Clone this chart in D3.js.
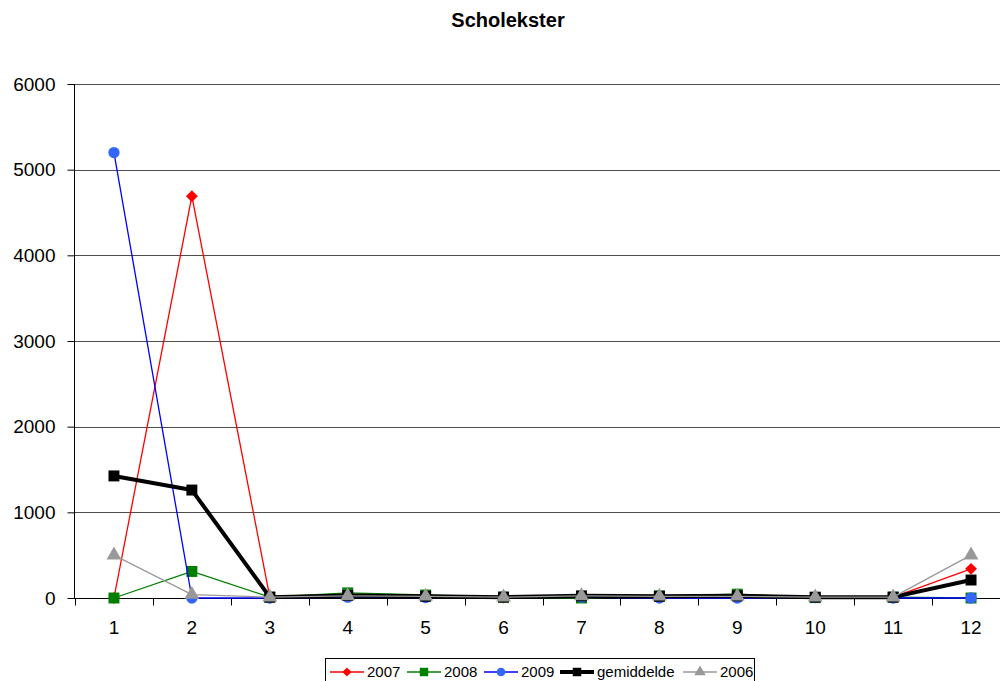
<!DOCTYPE html>
<html>
<head>
<meta charset="utf-8">
<script src="https://cdn.jsdelivr.net/npm/d3@7"></script>
<style>
  html, body { margin: 0; padding: 0; background: #fff; overflow: hidden; }
  svg { display: block; font-family: "Liberation Sans", Arial, sans-serif; }
</style>
</head>
<body>
<svg id="chart" width="1000" height="681"></svg>
<script>
// Monthly counts per year
const months = [1, 2, 3, 4, 5, 6, 7, 8, 9, 10, 11, 12];
const yTicks = [0, 1000, 2000, 3000, 4000, 5000, 6000];
const v2007 = [0, 4690, 10, 20, 15, 5, 30, 30, 10, 15, 10, 340];
const v2008 = [0, 310, 10, 60, 35, 10, 0, 25, 45, 5, 10, 0];
const v2009 = [5200, 0, 0, 10, 5, 15, 10, 0, 0, 5, 0, 0];
const vGemiddelde = [1425, 1260, 10, 30, 20, 10, 25, 20, 25, 10, 10, 210];
const v2006 = [500, 40, 10, 25, 20, 10, 25, 20, 20, 10, 10, 500];

const series = [
  { name: "2007", values: v2007, color: "#ff0000", width: 1.3, marker: "diamond", size: 70 },
  { name: "2008", values: v2008, color: "#008000", width: 1.3, marker: "square", size: 120 },
  { name: "2009", values: v2009, color: "#0000ff", markerColor: "#3366ff", width: 1.3, marker: "circle", size: 100 },
  { name: "gemiddelde", values: vGemiddelde, color: "#000000", width: 4, marker: "square", size: 120 },
  { name: "2006", values: v2006, color: "#999999", width: 1.3, marker: "triangle", size: 95 }
];

const svg = d3.select("#chart");
const margin = { left: 75, top: 84, right: -10, bottom: 83 };
const W = 1000, H = 681;

const x = d3.scaleBand().domain(months).range([margin.left, W - margin.right]);
const y = d3.scaleLinear().domain([0, 6000]).range([H - margin.bottom, margin.top]);

// Title
svg.append("text")
  .attr("x", 508).attr("y", 22)
  .attr("text-anchor", "middle")
  .attr("dominant-baseline", "middle")
  .attr("font-size", 20).attr("font-weight", "bold")
  .text("Scholekster");

// Horizontal gridlines
svg.append("g")
  .selectAll("line")
  .data(yTicks.filter(d => d > 0))
  .join("line")
  .attr("x1", margin.left).attr("x2", W - margin.right)
  .attr("y1", d => Math.round(y(d)) + 0.5).attr("y2", d => Math.round(y(d)) + 0.5)
  .attr("stroke", "#000").attr("stroke-width", 0.7);

// Y axis
const yAxis = svg.append("g")
  .attr("transform", `translate(${margin.left - 0.5},0)`)
  .call(d3.axisLeft(y).tickValues(yTicks).tickSize(7).tickPadding(12).tickFormat(d3.format("d")));
yAxis.selectAll("text").attr("font-size", 19).attr("fill", "#000").attr("font-family", "Liberation Sans, Arial, sans-serif");
yAxis.selectAll("line, path").attr("stroke", "#000");
yAxis.select(".domain").attr("d", `M0,${y(6000)}V${y(0)}`);

// X axis with ticks between categories
const xAxisG = svg.append("g").attr("transform", `translate(0,${Math.round(y(0)) + 0.5})`);
xAxisG.append("line")
  .attr("x1", margin.left - 7).attr("x2", W - margin.right)
  .attr("stroke", "#000");
const bounds = months.map(m => x(m)).concat([x(months[months.length - 1]) + x.bandwidth()]);
xAxisG.selectAll("line.tick")
  .data(bounds)
  .join("line").attr("class", "tick")
  .attr("x1", d => Math.round(d) + 0.5).attr("x2", d => Math.round(d) + 0.5)
  .attr("y1", 0).attr("y2", 7)
  .attr("stroke", "#000");
xAxisG.selectAll("text")
  .data(months)
  .join("text")
  .attr("x", d => x(d) + x.bandwidth() / 2)
  .attr("y", 30)
  .attr("text-anchor", "middle")
  .attr("dominant-baseline", "middle")
  .attr("font-size", 19)
  .text(d => d);

// Square diamond (rotated square), as used for the 2007 markers
const squareDiamond = {
  draw(context, size) {
    const r = Math.sqrt(size / 2);
    context.moveTo(0, -r);
    context.lineTo(r, 0);
    context.lineTo(0, r);
    context.lineTo(-r, 0);
    context.closePath();
  }
};

const symbolType = {
  diamond: squareDiamond,
  square: d3.symbolSquare,
  circle: d3.symbolCircle,
  triangle: d3.symbolTriangle
};

const cx = m => x(m) + x.bandwidth() / 2;
const line = d3.line().x((d, i) => cx(months[i])).y(d => y(d));

const plot = svg.append("g");
series.forEach(s => {
  const g = plot.append("g");
  g.append("path")
    .datum(s.values)
    .attr("d", line)
    .attr("fill", "none")
    .attr("stroke", s.color)
    .attr("stroke-width", s.width)
    .attr("stroke-linejoin", "round");
  g.selectAll("path.mk")
    .data(s.values)
    .join("path").attr("class", "mk")
    .attr("transform", (d, i) => `translate(${cx(months[i])},${y(d)})`)
    .attr("d", d3.symbol().type(symbolType[s.marker]).size(s.size))
    .attr("fill", s.markerColor || s.color);
});

// Legend
const legend = svg.append("g");
legend.append("rect")
  .attr("x", 325.5).attr("y", 658.5)
  .attr("width", 429).attr("height", 28)
  .attr("fill", "#fff").attr("stroke", "#000");
const legendX = [330, 407, 484, 560, 683];
series.forEach((s, i) => {
  const lx = legendX[i];
  const ly = 672;
  const g = legend.append("g");
  g.append("line")
    .attr("x1", lx).attr("x2", lx + 34)
    .attr("y1", ly).attr("y2", ly)
    .attr("stroke", s.color).attr("stroke-width", s.width);
  g.append("path")
    .attr("transform", `translate(${lx + 17},${ly})`)
    .attr("d", d3.symbol().type(symbolType[s.marker]).size(s.size * 0.6))
    .attr("fill", s.markerColor || s.color);
  g.append("text")
    .attr("x", lx + 37).attr("y", ly + 1)
    .attr("dominant-baseline", "middle")
    .attr("font-size", 15)
    .text(s.name);
});
</script>
</body>
</html>
